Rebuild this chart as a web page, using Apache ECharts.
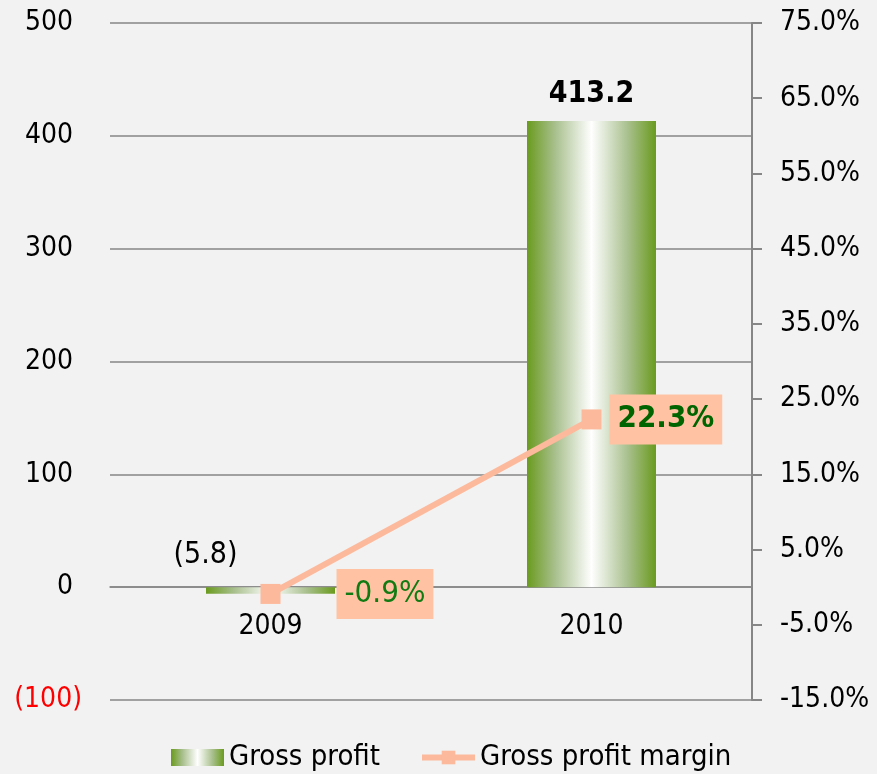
<!DOCTYPE html>
<html>
<head>
<meta charset="utf-8">
<script src="https://cdn.jsdelivr.net/npm/echarts@6/dist/echarts.min.js"></script>
<style>
html, body { margin: 0; padding: 0; background: #f2f2f2; }
#chart { width: 877px; height: 774px; }
</style>
</head>
<body>
<div id="chart"></div>
<script>
let categories = ['2009', '2010'];
let grossProfit = [-5.8, 413.2];
let grossMargin = [-0.9, 22.3];

// left axis (amount) and right axis (margin, %)
let leftMin = -100, leftMax = 500, leftStep = 100;
let rightMin = -15, rightMax = 75, rightStep = 10;

let font = "'DejaVu Sans Condensed', 'DejaVu Sans', sans-serif";
let gray = '#868686';
let salmon = '#fdb99b';

let gridTop = 23, gridBottom = 74;
let plotHeight = 774 - gridTop - gridBottom;

let barColour = new echarts.graphic.LinearGradient(0, 0, 1, 0, [
    { offset: 0, color: '#6a9b1e' },
    { offset: 0.22, color: '#a9c08e' },
    { offset: 0.5, color: '#ffffff' },
    { offset: 0.78, color: '#a9c08e' },
    { offset: 1, color: '#6a9b1e' }
]);

function fmtAmount(v) {
    return v < 0 ? '(' + Math.abs(v) + ')' : String(v);
}

// bars: small negative one gets a plain label off to the left, big one bold
let barData = grossProfit.map((v, i) => {
    let item = { value: v };
    if (v < 0) {
        item.label = { position: 'top', distance: 17, offset: [-65, 0], fontWeight: 'normal' };
    } else {
        item.label = { position: 'top', distance: 12, fontWeight: 'bold' };
    }
    return item;
});

// right axis starts at 0 internally so ticks land on -15, -5, 5 ...
let lineData = grossMargin.map((v, i) => {
    let item = { value: v - rightMin };
    if (i == 0) {
        item.label = { distance: 56, fontWeight: 'normal', color: '#127a12' };
    } else {
        item.label = { distance: 8, fontWeight: 'bold', color: '#006400' };
    }
    return item;
});

let myChart = echarts.init(document.getElementById('chart'));

let option = {
    backgroundColor: '#f2f2f2',
    animation: false,
    textStyle: { fontFamily: font },
    grid: { left: 110, right: 125, top: gridTop, bottom: gridBottom },
    legend: {
        bottom: -3,
        left: 166,
        itemGap: 39,
        itemWidth: 53,
        itemHeight: 17,
        textStyle: { fontSize: 29, color: '#000', fontFamily: font },
        data: [
            { name: 'Gross profit', icon: 'rect' },
            { name: 'Gross profit margin', itemStyle: { color: salmon }, lineStyle: { color: salmon, width: 6 } }
        ]
    },
    xAxis: {
        type: 'category',
        data: categories,
        // move the category axis up to the zero line of the left axis
        offset: -plotHeight * (0 - leftMin) / (leftMax - leftMin),
        axisLine: { show: true, onZero: false, lineStyle: { color: gray, width: 1.5 } },
        axisTick: { show: false },
        axisLabel: { fontSize: 28, color: '#000', margin: 26, fontFamily: font }
    },
    yAxis: [
        {
            type: 'value',
            min: leftMin,
            max: leftMax,
            interval: leftStep,
            axisLine: { show: false },
            axisTick: { show: false },
            splitLine: { lineStyle: { color: gray, width: 1.5 } },
            axisLabel: {
                fontSize: 28,
                margin: 28,
                fontFamily: font,
                // positives leave room for the closing bracket, like the negatives
                formatter: function (v) { return v < 0 ? fmtAmount(v) : '{pos|' + v + '}'; },
                rich: { pos: { fontSize: 28, fontFamily: font, padding: [0, 9, 0, 0] } },
                color: function (v) { return v < 0 ? '#ff0000' : '#000'; }
            }
        },
        {
            type: 'value',
            min: 0,
            max: rightMax - rightMin,
            interval: rightStep,
            position: 'right',
            axisLine: { show: true, lineStyle: { color: gray, width: 2 } },
            axisTick: { show: true, length: 10, lineStyle: { color: gray, width: 2 } },
            splitLine: { show: false },
            axisLabel: {
                fontSize: 28,
                margin: 28,
                color: '#000',
                fontFamily: font,
                formatter: function (v) { return (v + rightMin).toFixed(1) + '%'; }
            }
        }
    ],
    series: [
        {
            name: 'Gross profit',
            type: 'bar',
            yAxisIndex: 0,
            barWidth: 129,
            itemStyle: { color: barColour },
            label: {
                show: true,
                fontSize: 30,
                color: '#000',
                fontFamily: font,
                formatter: function (p) { return p.value < 0 ? fmtAmount(p.value) : p.value.toFixed(1); }
            },
            data: barData,
            z: 2
        },
        {
            name: 'Gross profit margin',
            type: 'line',
            yAxisIndex: 1,
            symbol: 'rect',
            symbolSize: 20,
            lineStyle: { color: salmon, width: 6 },
            itemStyle: { color: salmon },
            label: {
                show: true,
                position: 'right',
                fontSize: 31,
                fontFamily: font,
                backgroundColor: '#ffc3a3',
                padding: [10, 8, 9, 8],
                formatter: function (p) { return grossMargin[p.dataIndex].toFixed(1) + '%'; }
            },
            data: lineData,
            z: 5
        }
    ]
};

myChart.setOption(option);
</script>
</body>
</html>
